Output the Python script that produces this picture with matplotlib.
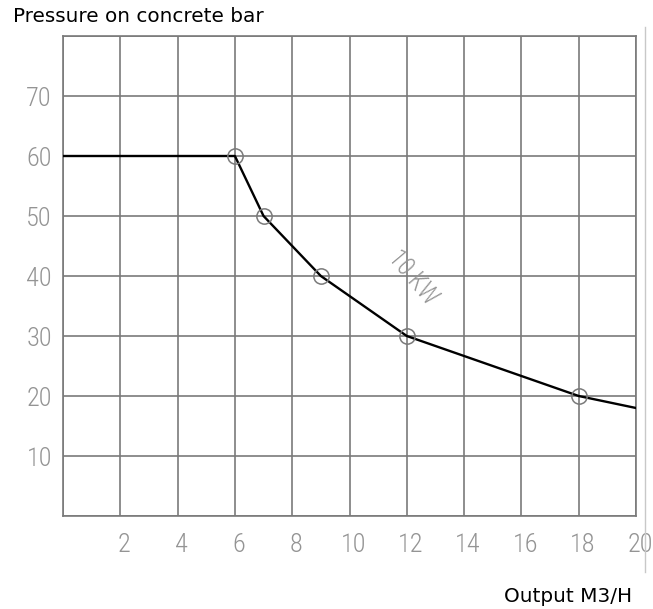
import matplotlib
matplotlib.use("Agg")
import matplotlib.pyplot as plt
from matplotlib.lines import Line2D
from matplotlib.transforms import ScaledTranslation

# curve of the pump (output m3/h vs pressure bar)
caudal = [0, 6, 7, 9, 12, 18, 20]
presion = [60, 60, 50, 40, 30, 20, 18]
puntos_x = [6, 7, 9, 12, 18]
puntos_y = [60, 50, 40, 30, 20]
ticks_x = [2, 4, 6, 8, 10, 12, 14, 16, 18, 20]
ticks_y = [10, 20, 30, 40, 50, 60, 70]
potencia = "10 KW"

gris = "#7a7a7a"
fuente_cad = ["Roboto Condensed", "Roboto", "DejaVu Sans"]

fig = plt.figure(figsize=(6.53, 6.09), dpi=100)
ax = fig.add_axes([63 / 653, (609 - 516) / 609, 573 / 653, 480 / 609])
ax.set_xlim(0, 20)
ax.set_ylim(0, 80)

for x in range(0, 21, 2):
    ax.axvline(x, color=gris, lw=1.2, zorder=1)
for y in range(0, 81, 10):
    ax.axhline(y, color=gris, lw=1.2, zorder=1)
for s in ax.spines.values():
    s.set_color(gris)
    s.set_linewidth(1.2)

ax.plot(caudal, presion, color="black", lw=1.7, zorder=3)
ax.plot(puntos_x, puntos_y, "o", ms=11, mfc="none", mec=gris, mew=1.1, zorder=4)

ax.set_xticks(ticks_x)
ax.set_yticks(ticks_y)
ax.tick_params(length=0, colors="#949494", labelsize=19, pad=8)
for lab in ax.get_xticklabels() + ax.get_yticklabels():
    lab.set_family(fuente_cad)
    lab.set_fontweight("light")
ax.tick_params(axis="x", pad=12)
# los numeros del eje x van un poco a la derecha de la rejilla
desplaza = ScaledTranslation(4 / 100, 0, fig.dpi_scale_trans)
for lab in ax.get_xticklabels():
    lab.set_transform(lab.get_transform() + desplaza)

ax.text(12.2, 39.7, potencia, rotation=-50, ha="center", va="center",
        color="#949494", fontsize=18, family=fuente_cad, fontweight="light",
        zorder=5)

fig.text(13 / 653, 1 - 17 / 609, "Pressure on concrete bar", ha="left",
         va="center", fontsize=14.4, family="DejaVu Sans")
fig.text(632 / 653, 1 - 597 / 609, "Output M3/H", ha="right", va="center",
         fontsize=14.4, family="DejaVu Sans")

fig.add_artist(Line2D([645 / 653, 645 / 653], [1 - 27 / 609, 1 - 572 / 609],
                      transform=fig.transFigure, color="#c8c8c8", lw=1))

fig.savefig("out.png", dpi=100)
